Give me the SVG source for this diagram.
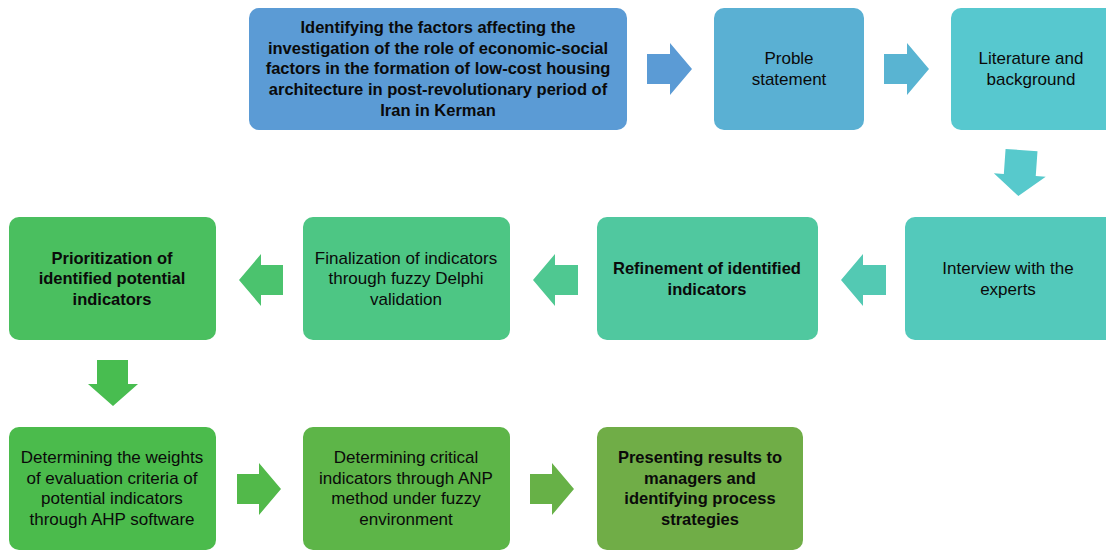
<svg xmlns="http://www.w3.org/2000/svg" width="1106" height="551" viewBox="0 0 1106 551">
<style>
text{font-family:"Liberation Sans",Arial,sans-serif;font-size:17px;fill:#0a0a0a;text-anchor:middle}
.b{font-weight:bold;font-size:16.5px}
</style>
<rect width="1106" height="551" fill="#fff"/>
<g id="connectors">
<polygon fill="#5b9bd5" points="647,54 670,54 670,43 692,69 670,95 670,84 647,84"/>
<polygon fill="#59b4d2" points="884,54 907,54 907,43 929,69 907,95 907,84 884,84"/>
<polygon fill="#57c9cc" transform="rotate(4 1020 172)" points="1004,150 1036,150 1036,175 1046,175 1020,196 994,175 1004,175"/>
<polygon fill="#53c9b3" points="886,265 863,265 863,254 841,280 863,306 863,295 886,295"/>
<polygon fill="#4fc891" points="578,265 555,265 555,254 533,280 555,306 555,295 578,295"/>
<polygon fill="#4bc36e" points="283,265 261,265 261,254 239,280 261,306 261,295 283,295"/>
<polygon fill="#48bd50" points="97,360 128,360 128,384 138,384 113,406 88,384 97,384"/>
<polygon fill="#52b94a" points="237,474 259,474 259,463 281,489 259,515 259,504 237,504"/>
<polygon fill="#67b147" points="530,474 552,474 552,463 574,489 552,515 552,504 530,504"/>
</g>
<g id="n1">
<rect x="249" y="8" width="378" height="122" rx="10" fill="#5b9bd5"/>
<text class="b" x="438" y="33">Identifying the factors affecting the</text>
<text class="b" x="438" y="54">investigation of the role of economic-social</text>
<text class="b" x="438" y="74">factors in the formation of low-cost housing</text>
<text class="b" x="438" y="95">architecture in post-revolutionary period of</text>
<text class="b" x="438" y="116">Iran in Kerman</text>
</g>
<g id="n2">
<rect x="714" y="8" width="150" height="122" rx="10" fill="#5ab0d3"/>
<text x="789" y="64">Proble</text>
<text x="789" y="85">statement</text>
</g>
<g id="n3">
<rect x="951" y="8" width="165" height="122" rx="10" fill="#57c8cf"/>
<text x="1031" y="64">Literature and</text>
<text x="1031" y="85">background</text>
</g>
<g id="n4">
<rect x="905" y="217" width="215" height="123" rx="10" fill="#53c9bb"/>
<text x="1008" y="274">Interview with the</text>
<text x="1008" y="295">experts</text>
</g>
<g id="n5">
<rect x="597" y="217" width="221" height="123" rx="10" fill="#50c89f"/>
<text class="b" x="707" y="274">Refinement of identified</text>
<text class="b" x="707" y="295">indicators</text>
</g>
<g id="n6">
<rect x="303" y="217" width="207" height="123" rx="10" fill="#4dc684"/>
<text x="406" y="264">Finalization of indicators</text>
<text x="406" y="284">through fuzzy Delphi</text>
<text x="406" y="305">validation</text>
</g>
<g id="n7">
<rect x="9" y="217" width="207" height="123" rx="10" fill="#4abf5f"/>
<text class="b" x="112" y="264">Prioritization of</text>
<text class="b" x="112" y="284">identified potential</text>
<text class="b" x="112" y="305">indicators</text>
</g>
<g id="n8">
<rect x="9" y="427" width="207" height="123" rx="10" fill="#4bbb4c"/>
<text x="112" y="463">Determining the weights</text>
<text x="112" y="484">of evaluation criteria of</text>
<text x="112" y="504">potential indicators</text>
<text x="112" y="525">through AHP software</text>
</g>
<g id="n9">
<rect x="303" y="427" width="207" height="123" rx="10" fill="#5db548"/>
<text x="406" y="463">Determining critical</text>
<text x="406" y="484">indicators through ANP</text>
<text x="406" y="504">method under fuzzy</text>
<text x="406" y="525">environment</text>
</g>
<g id="n10">
<rect x="597" y="427" width="206" height="123" rx="10" fill="#70ad47"/>
<text class="b" x="700" y="463">Presenting results to</text>
<text class="b" x="700" y="484">managers and</text>
<text class="b" x="700" y="504">identifying process</text>
<text class="b" x="700" y="525">strategies</text>
</g>
</svg>
